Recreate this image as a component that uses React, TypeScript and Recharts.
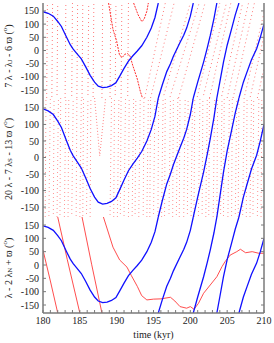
import { LineChart, Line, XAxis, YAxis, ReferenceLine } from 'recharts';

const xTicks = [180, 181, 182, 183, 184, 185, 186, 187, 188, 189, 190, 191, 192, 193, 194, 195,
  196, 197, 198, 199, 200, 201, 202, 203, 204, 205, 206, 207, 208, 209, 210];
const yTicks = [-150, -100, -50, 0, 50, 100, 150];

// blue angle (same in all three panels), split where it wraps at +-180
const blueSegments: [number, number][][] = [
  [[180, 147], [180.7, 141], [181.4, 130], [182, 110], [182.5, 91], [183.2, 50], [183.7, 22],
    [184.1, 5], [184.6, -12], [185.2, -32], [185.8, -62], [186.4, -94], [187, -120], [187.5, -135],
    [188.1, -141], [188.7, -139], [189.3, -133], [189.9, -122], [190.4, -98], [191, -68],
    [191.6, -40], [192.2, -20], [192.8, -2], [193.4, 18], [194.1, 50], [194.7, 85], [195.2, 125],
    [195.65, 180]],
  [[195.65, -180], [196.2, -130], [196.8, -80], [197.3, -50], [197.7, -22], [198.6, 30],
    [199.1, 58], [199.5, 85], [200, 130], [200.4, 180]],
  [[200.4, -180], [201, -120], [201.8, -44], [202.3, 10], [202.7, 56], [203.2, 120], [203.6, 180]],
  [[203.6, -180], [204, -120], [204.5, -44], [205, 20], [205.6, 82], [206.1, 135], [206.6, 180]],
  [[206.6, -180], [207.2, -120], [207.7, -81], [208.3, -35], [209, 7], [209.5, 50], [210, 100]],
];

// panel 3 red angle
const red3Segments: [number, number][][] = [
  [[180, 56], [181, -60], [182, -180]],
  [[182, 180], [183.3, 20], [185, -180]],
  [[185.3, 180], [186.6, 3], [188, -180]],
  [[188.2, 180], [189.5, 67], [190.4, 19], [191.4, -8], [192, -40], [192.8, -80], [193.4, -115],
    [194.1, -131], [195, -128], [196, -127], [197.3, -121], [197.9, -135], [198.6, -156],
    [199.5, -162], [200, -156], [200.5, -166], [201.1, -144], [201.8, -106], [202.7, -75],
    [203.6, -44], [204.3, -6], [204.7, 12], [205.4, 37], [206.3, 50], [206.8, 59], [207.5, 46],
    [208.4, 50], [209.3, 44], [210, 44]],
];

// panel 1 red: the denser slow pieces
const red1Segments: [number, number][][] = [
  [[188.9, 180], [189.5, 80], [190, 35], [190.4, -19], [190.8, -25], [191.1, -14], [191.5, -12],
    [191.8, -20], [192.2, -58], [192.8, -108], [193.2, -154], [193.5, -180]],
  [[192.3, 180], [192.9, 136], [193.4, 110], [193.7, 117], [194.1, 149], [194.3, 180]],
];

// panel 1 red: faint dotted streaks, [t at -180, t at +180]
const red1Streaks: [number, number][] = [
  [180.5, 180.6], [181.2, 181.3], [181.9, 182], [183, 183.1], [183.9, 184], [184.6, 184.7],
  [185.3, 185.4], [186.1, 186.2], [186.8, 186.9], [188, 188.1], [189.1, 189.2], [189.8, 189.9],
  [190.6, 190.7], [191.5, 191.6], [193.8, 196.6], [194.6, 197.8], [196.3, 200], [197.2, 201.2],
  [198.4, 202], [200.9, 204], [201.7, 204.9], [202.6, 205.5], [204.2, 207.1], [205, 207.9],
  [205.8, 208.7], [207.3, 210.3], [208.1, 211], [209.1, 212],
];

// panel 2 red: near-vertical dotted streaks and the V near 188
const red2Streaks: [number, number][] = [
  [180.3, 180.4], [180.8, 181], [181.4, 181.5], [181.9, 182.1], [182.3, 182.4], [182.9, 183.1],
  [183.4, 183.5], [183.9, 184.1], [184.5, 184.6], [185, 185.2], [185.4, 185.5], [185.9, 186.1],
  [186.4, 186.5], [189.1, 189.3], [189.6, 189.7], [190.1, 190.3], [190.5, 190.6], [191, 191.2],
  [191.6, 191.7], [192.1, 192.3], [192.5, 192.6], [193, 193.2], [193.6, 193.7], [194.1, 194.3],
  [194.5, 194.6], [195, 195.2], [195.6, 195.7], [196.1, 196.3], [196.5, 196.6], [197.1, 197.3],
  [197.6, 197.7], [198.1, 198.3], [198.5, 198.6], [199.1, 199.3], [199.6, 199.7], [200.1, 200.3],
  [200.5, 200.6], [201.1, 201.3], [201.6, 201.7], [202.1, 202.3], [202.5, 202.6], [203.1, 203.3],
  [203.6, 203.7], [204.1, 204.3], [204.5, 204.6], [205.1, 205.3], [205.6, 205.7], [206.1, 206.3],
  [206.5, 206.6], [207.1, 207.3], [207.6, 207.7], [208.1, 208.3], [208.5, 208.6], [209.1, 209.3],
  [209.6, 209.7],
];
const red2V: [number, number][] = [[187, 180], [187.7, 5], [188.5, 180]];

const toRows = (segs: [number, number][][]) => {
  const rows: { t: number; v: number | null }[] = [];
  segs.forEach((seg, i) => {
    if (i > 0) rows.push({ t: seg[0][0], v: null });
    seg.forEach(([t, v]) => rows.push({ t, v }));
  });
  return rows;
};

const AXIS = '#7a7a7a';
const FONT = 'Liberation Serif, DejaVu Serif, serif';
const DASH_OFFSETS = [0, 3, 1, 4, 2, 0, 4, 1, 3];

function Panel({ top, height, marginTop, bottomAxis, children }: any) {
  return (
    <div style={{ position: 'absolute', left: 0, top }}>
      <LineChart width={274} height={height} margin={{ top: marginTop, right: 0, bottom: 0, left: 0 }}>
        <XAxis
          dataKey="t"
          type="number"
          domain={[180, 210]}
          allowDataOverflow
          ticks={xTicks}
          interval={0}
          height={bottomAxis ? 30 : 0}
          tickSize={-3}
          tickMargin={bottomAxis ? 7 : 0}
          tickFormatter={(v: number) => (bottomAxis && v % 5 === 0 ? String(v) : '')}
          axisLine={{ stroke: AXIS, strokeWidth: 1.5 }}
          tickLine={{ stroke: AXIS }}
          tick={{ fill: '#222', fontSize: 10, fontFamily: FONT }}
          label={bottomAxis ? { value: 'time (kyr)', position: 'insideBottom', offset: 5, fill: '#222', fontSize: 10, fontFamily: FONT } : undefined}
        />
        <XAxis
          xAxisId="top"
          orientation="top"
          type="number"
          domain={[180, 210]}
          allowDataOverflow
          ticks={xTicks}
          interval={0}
          height={0}
          tickSize={-3}
          tickFormatter={() => ''}
          axisLine={{ stroke: AXIS, strokeWidth: 1.5 }}
          tickLine={{ stroke: AXIS }}
        />
        <YAxis
          type="number"
          domain={[-180, 180]}
          allowDataOverflow
          ticks={yTicks}
          interval={0}
          width={43}
          tickSize={-3}
          tickMargin={7}
          axisLine={{ stroke: AXIS, strokeWidth: 1.5 }}
          tickLine={{ stroke: AXIS }}
          tick={{ fill: '#222', fontSize: 10, fontFamily: FONT }}
        />
        <YAxis
          yAxisId="r"
          orientation="right"
          type="number"
          domain={[-180, 180]}
          allowDataOverflow
          ticks={yTicks}
          interval={0}
          width={10}
          tickSize={-3}
          tickFormatter={() => ''}
          axisLine={{ stroke: AXIS, strokeWidth: 1.5 }}
          tickLine={{ stroke: AXIS }}
        />
        {children}
        <Line
          data={toRows(blueSegments)}
          dataKey="v"
          stroke="#1010ff"
          strokeWidth={1.3}
          dot={false}
          connectNulls={false}
          isAnimationActive={false}
        />
      </LineChart>
    </div>
  );
}

const streakLines = (list: [number, number][], color: string, dash: string, opacity: number) =>
  list.map(([a, b], i) => (
    <ReferenceLine
      key={`s${i}`}
      segment={[{ x: a, y: -180 }, { x: b, y: 180 }]}
      stroke={color}
      strokeOpacity={opacity}
      strokeDasharray={dash}
      strokeDashoffset={DASH_OFFSETS[i % DASH_OFFSETS.length]}
      ifOverflow="hidden"
    />
  ));

function YLabel({ cx, cy, parts }: { cx: number; cy: number; parts: [string, string][] }) {
  return (
    <text
      transform={`translate(${cx},${cy}) rotate(-90)`}
      textAnchor="middle"
      dominantBaseline="central"
      fontSize={10}
      fontFamily={FONT}
      fill="#222"
    >
      {parts.map(([s, kind], i) => (
        <tspan
          key={i}
          dy={kind === 'sub' ? 2 : kind === 'sup' ? -3 : kind === 'back' ? -2 : kind === 'down' ? 3 : 0}
          fontSize={kind === 'sub' || kind === 'sup' ? 7 : 10}
        >
          {s}
        </tspan>
      ))}
    </text>
  );
}

export default function App() {
  return (
    <div style={{ position: 'absolute', left: 0, top: 0, width: 274, height: 343, background: '#fff' }}>
      <Panel top={0} height={98} marginTop={3} bottomAxis={false}>
        {streakLines(red1Streaks, '#ff5050', '1 3', 0.75)}
        <Line
          data={toRows(red1Segments)}
          dataKey="v"
          stroke="#ff3030"
          strokeWidth={1}
          strokeDasharray="2 1"
          dot={false}
          connectNulls={false}
          isAnimationActive={false}
        />
      </Panel>
      <Panel top={98} height={119} marginTop={0} bottomAxis={false}>
        {streakLines(red2Streaks, '#ff5050', '1 3', 0.6)}
        <Line
          data={red2V.map(([t, v]) => ({ t, v }))}
          dataKey="v"
          stroke="#ff5050"
          strokeOpacity={0.7}
          strokeWidth={1}
          strokeDasharray="1 2"
          dot={false}
          isAnimationActive={false}
        />
      </Panel>
      <Panel top={217} height={126} marginTop={0} bottomAxis>
        <Line
          data={toRows(red3Segments)}
          dataKey="v"
          stroke="#ff3a3a"
          strokeWidth={0.9}
          dot={false}
          connectNulls={false}
          isAnimationActive={false}
        />
      </Panel>
      <svg width={274} height={343} style={{ position: 'absolute', left: 0, top: 0, pointerEvents: 'none' }}>
        <YLabel cx={8} cy={56} parts={[['7 λ - λ', ''], ['J', 'sub'], [' - 6 ϖ (', 'back'], ['o', 'sup'], [')', 'down']]} />
        <YLabel cx={8} cy={159} parts={[['20 λ - 7 λ', ''], ['S', 'sub'], [' - 13 ϖ (', 'back'], ['o', 'sup'], [')', 'down']]} />
        <YLabel cx={8} cy={268} parts={[['λ - 2 λ', ''], ['N', 'sub'], [' + ϖ (', 'back'], ['o', 'sup'], [')', 'down']]} />
      </svg>
    </div>
  );
}
